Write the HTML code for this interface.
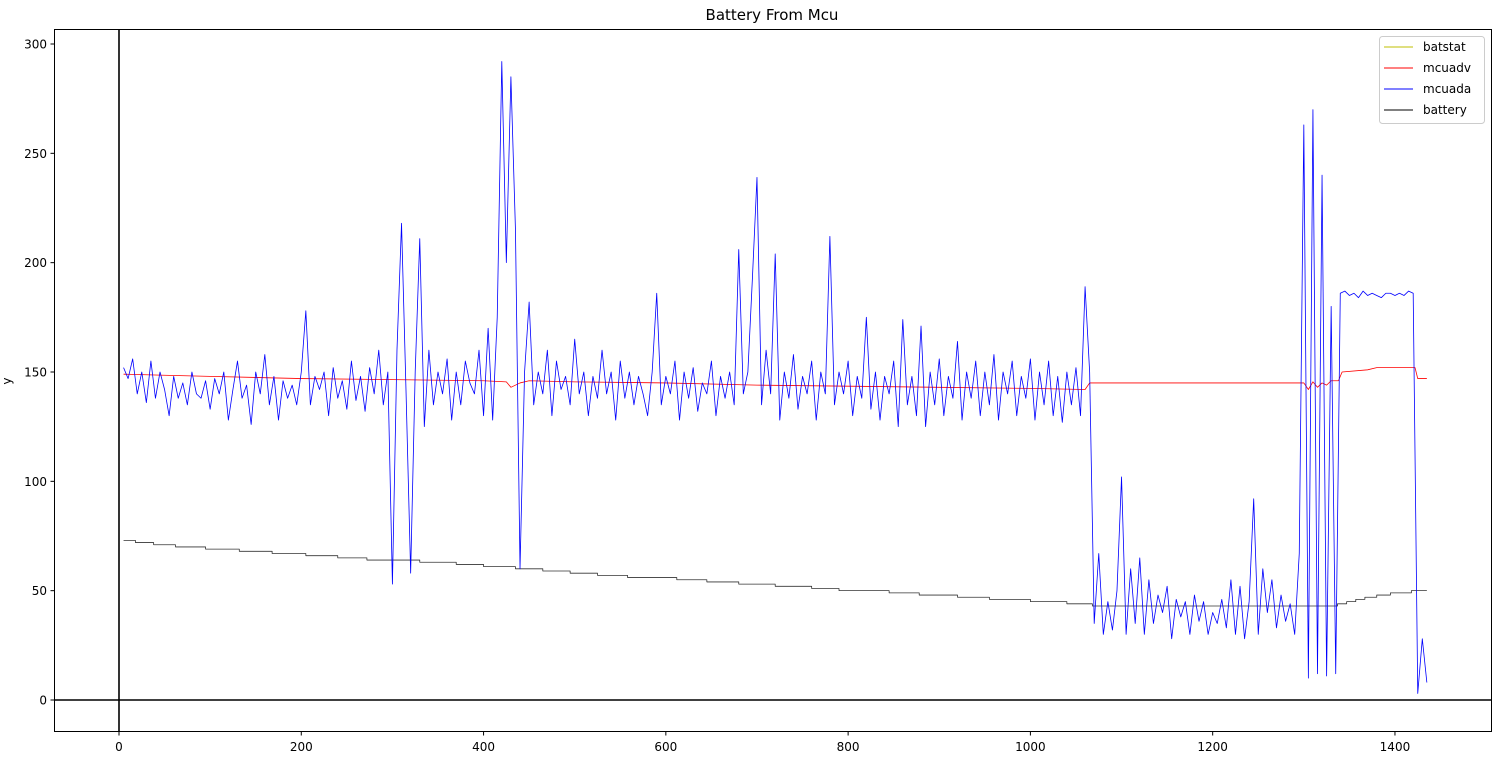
<!DOCTYPE html>
<html><head><meta charset="utf-8"><style>
html,body{margin:0;padding:0;background:#fff;}
svg{display:block;font-family:"DejaVu Sans","Liberation Sans",sans-serif;}
</style></head><body>
<svg id="chart" width="1507" height="757" viewBox="0 0 1507 757" xmlns="http://www.w3.org/2000/svg">
<rect x="0" y="0" width="1507" height="757" fill="#fff"/>
<text x="772" y="20" font-size="15" text-anchor="middle">Battery From Mcu</text>
<text x="11" y="381" font-size="12" text-anchor="middle" transform="rotate(-90 11 381)">y</text>
<g id="plot"></g>
<rect x="54.5" y="29.5" width="1437" height="702" fill="none" stroke="#000" stroke-width="1"/>
<g id="legend">
<rect x="1379.5" y="36.5" width="105" height="87" rx="3" fill="#fff" fill-opacity="0.8" stroke="#ccc"/>
<line x1="1384" y1="47" x2="1413" y2="47" stroke="#bfbf00" stroke-width="1"/>
<text x="1423" y="51" font-size="12">batstat</text>
<line x1="1384" y1="68" x2="1413" y2="68" stroke="#ff0000" stroke-width="1"/>
<text x="1423" y="72" font-size="12">mcuadv</text>
<line x1="1384" y1="89" x2="1413" y2="89" stroke="#0000ff" stroke-width="1"/>
<text x="1423" y="93" font-size="12">mcuada</text>
<line x1="1384" y1="110" x2="1413" y2="110" stroke="#000" stroke-width="1"/>
<text x="1423" y="114" font-size="12">battery</text>
</g>
</svg>
<script>
const xTicks = [0,200,400,600,800,1000,1200,1400];
const yTicks = [0,50,100,150,200,250,300];
const blueStartX = 5;
const blueStepX = 5;
const blueValues = [
152,147,156,140,150,136,155,138,150,142,130,148,138,145,135,150,140,138,146,133,
147,140,150,128,142,155,138,144,126,150,140,158,135,148,128,146,138,144,135,150,
178,135,148,142,150,130,152,138,146,133,155,137,148,132,152,140,160,135,150,53,
160,218,140,58,150,211,125,160,135,150,140,156,128,150,135,155,145,140,160,130,
170,128,175,292,200,285,215,60,150,182,135,150,140,160,130,155,142,148,135,165,
140,150,130,148,138,160,140,150,128,155,138,150,135,148,140,130,150,186,135,148,
140,155,128,150,138,152,132,145,140,155,130,148,138,150,135,206,140,150,193,239,
135,160,140,204,128,150,138,158,133,148,140,155,128,150,140,212,135,150,140,155,
130,148,138,175,133,150,128,148,140,155,125,174,135,148,130,171,125,150,135,156,
130,148,138,164,128,150,138,155,130,150,135,158,128,150,140,155,130,148,138,156,
128,150,135,155,130,148,127,150,135,152,130,189,150,35,67,30,45,32,50,102,
30,60,35,65,30,55,35,48,40,52,28,46,38,45,30,48,36,45,30,40,
35,46,33,55,30,52,28,45,92,30,60,40,55,33,48,36,44,30,67,263,
10,270,12,240,11,180,12,186,187,185,186,184,187,185,186,185,184,186,186,185,
186,185,187,186,3,28,8];
const redX = [5,50,100,200,300,400,425,430,440,450,500,600,700,800,900,1000,1060,1065,1300,1305,1310,1315,1320,1325,1330,1338,1342,1370,1380,1422,1425,1435];
const redV = [149,148.5,148,147,146.5,146,145.5,143,145,146,145.5,145,144,143.5,143,142.5,142,145,145,142,145.5,143,145,144,146,146,150,151,152,152,147,147];
const stepX = [5,18,38,62,95,132,168,205,240,272,330,370,400,435,465,495,525,558,612,645,680,720,760,790,845,878,920,955,1000,1040,1068,1337,1347,1357,1367,1380,1395,1418,1435];
const stepV = [73,72,71,70,69,68,67,66,65,64,63,62,61,60,59,58,57,56,55,54,53,52,51,50,49,48,47,46,45,44,43,44,45,46,47,48,49,50,50];
const yellowX = [5,1435];
const yellowV = [0,0];

const NS='http://www.w3.org/2000/svg';
const xs = v => 119 + 0.9114*v;
const ys = v => 700 - 2.1867*v;
const plot = document.getElementById('plot');
const svg = document.getElementById('chart');
function mk(tag, attrs, parent){const e=document.createElementNS(NS,tag);for(const k in attrs)e.setAttribute(k,attrs[k]);(parent||plot).appendChild(e);return e;}

xTicks.forEach(t=>{
  const g=mk('g',{},svg);
  
  
  mk('line',{x1:xs(t),y1:732,x2:xs(t),y2:735.5,stroke:'#000','stroke-width':1},g);
  const tx=mk('text',{x:xs(t),y:751,'font-size':12,'text-anchor':'middle'},g);tx.textContent=t;
});
yTicks.forEach(t=>{
  const g=mk('g',{},svg);
  
  
  mk('line',{x1:50.5,y1:ys(t),x2:54,y2:ys(t),stroke:'#000','stroke-width':1},g);
  const tx=mk('text',{x:47,y:ys(t)+4.5,'font-size':12,'text-anchor':'end'},g);tx.textContent=t;
});

function poly(xArr, vArr, color, name, step){
  let pts=[];
  for(let i=0;i<vArr.length;i++){
    if(step && i>0) pts.push(xs(xArr[i]).toFixed(2)+','+ys(vArr[i-1]).toFixed(2));
    pts.push(xs(xArr[i]).toFixed(2)+','+ys(vArr[i]).toFixed(2));
  }
  const p=mk('polyline',{points:pts.join(' '),fill:'none',stroke:color,'stroke-width':0.8,'stroke-linejoin':'round'});
  
  
}
const blueX = blueValues.map((_,i)=>blueStartX+blueStepX*i);
poly(stepX, stepV, '#333', 'battery-line', true);
poly(yellowX, yellowV, '#bfbf00', 'batstat-line', false);
poly(redX, redV, '#ff0000', 'mcuadv-line', false);
poly(blueX, blueValues, '#0000ff', 'mcuada-line', false);

const hl=mk('line',{x1:54,y1:ys(0),x2:1492,y2:ys(0),stroke:'#000','stroke-width':1.6});


const vl=mk('line',{x1:xs(0),y1:29,x2:xs(0),y2:732,stroke:'#000','stroke-width':1.6});


</script>
</body></html>
